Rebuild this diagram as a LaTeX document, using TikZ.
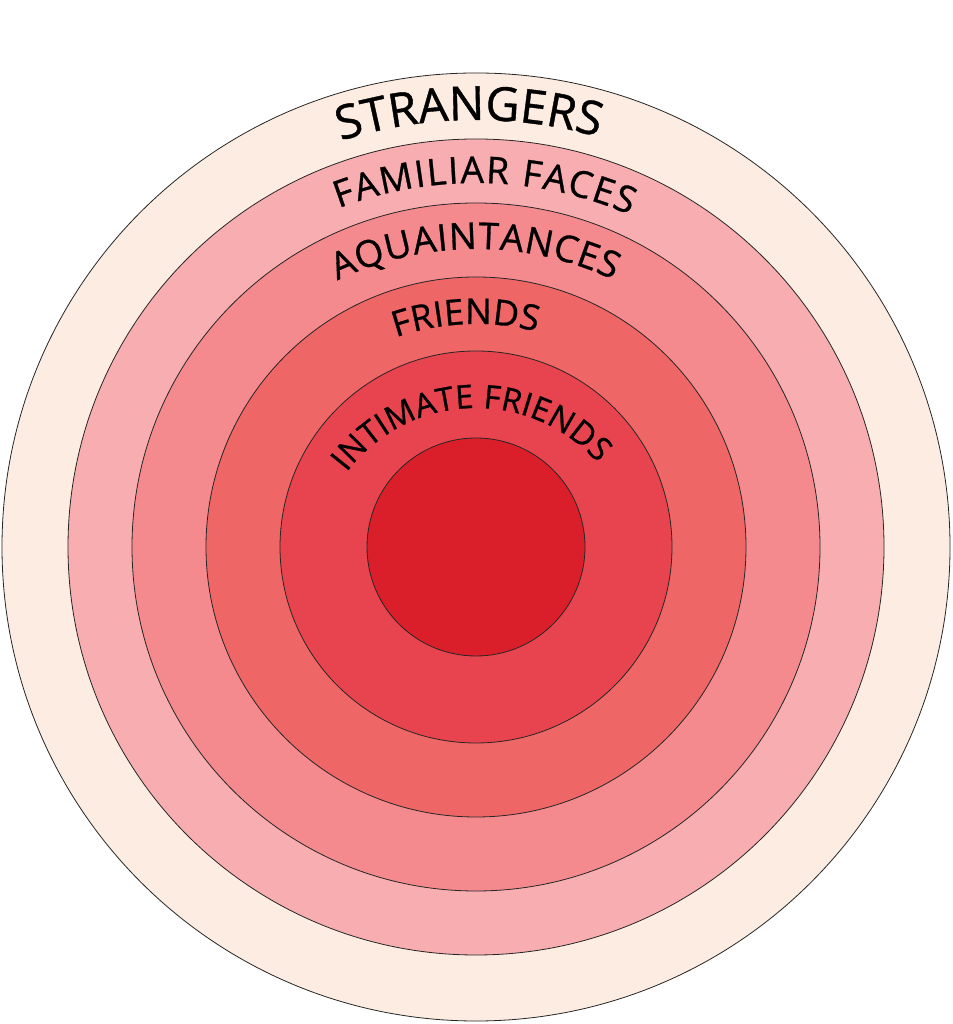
\documentclass[tikz,border=0pt]{standalone}
\usepackage{fontspec}
\setmainfont{Open Sans}
\newfontfamily\labelfont[FakeBold=0.8]{Open Sans}
\usetikzlibrary{decorations.text}
\definecolor{ringA}{HTML}{FDECE1}
\definecolor{ringB}{HTML}{F8AEB1}
\definecolor{ringC}{HTML}{F48A8E}
\definecolor{ringD}{HTML}{EF6667}
\definecolor{ringE}{HTML}{E8444F}
\definecolor{ringF}{HTML}{DA1F2A}
\tikzset{
  ring/.style={circle, draw=black!85, line width=0.8pt, inner sep=0pt, outer sep=0pt, minimum size=#1},
  arclabel/.style={decorate, decoration={text along path, text={#1}, text align=fit to path}}
}
\newcommand{\bigfont}{\labelfont\fontsize{47}{50}\selectfont}
\newcommand{\midfont}{\labelfont\fontsize{37}{40}\selectfont}
\newcommand{\frfont}{\labelfont\fontsize{35.5}{40}\selectfont}
\newcommand{\tinyfont}{\labelfont\fontsize{32.5}{36}\selectfont}
\begin{document}
\begin{tikzpicture}[x=1pt,y=1pt]
\useasboundingbox (0,0) rectangle (952,1024);
\coordinate (c) at (476,477);
\coordinate (t) at (476,454);
\node[ring=948pt, fill=ringA] (strangers) at (c) {};
\node[ring=816pt, fill=ringB] (familiar) at (c) {};
\node[ring=688pt, fill=ringC] (aquaint) at (c) {};
\node[ring=540pt, fill=ringD] (friends) at (c) {};
\node[ring=392pt, fill=ringE] (intimate) at (c) {};
\node[ring=218pt, fill=ringF] (core) at (c) {};
\path[arclabel={|\bigfont|STRANGERS}] (t) ++(107.5:450) arc[start angle=107.5, end angle=74.3, radius=450];
\path[arclabel={|\midfont|FAMILIAR FACES}] (t) ++(110.8:387) arc[start angle=110.8, end angle=66.6, radius=387];
\path[arclabel={|\midfont|AQUAINTANCES}] (t) ++(115.6:321) arc[start angle=115.6, end angle=64.7, radius=321];
\path[arclabel={|\frfont|FRIENDS}] (t) ++(109:246) arc[start angle=109, end angle=75.7, radius=246];
\path[arclabel={|\tinyfont|INTIMATE FRIENDS}] (t) ++(143:162) arc[start angle=143, end angle=41.2, radius=162];
\end{tikzpicture}
\end{document}
